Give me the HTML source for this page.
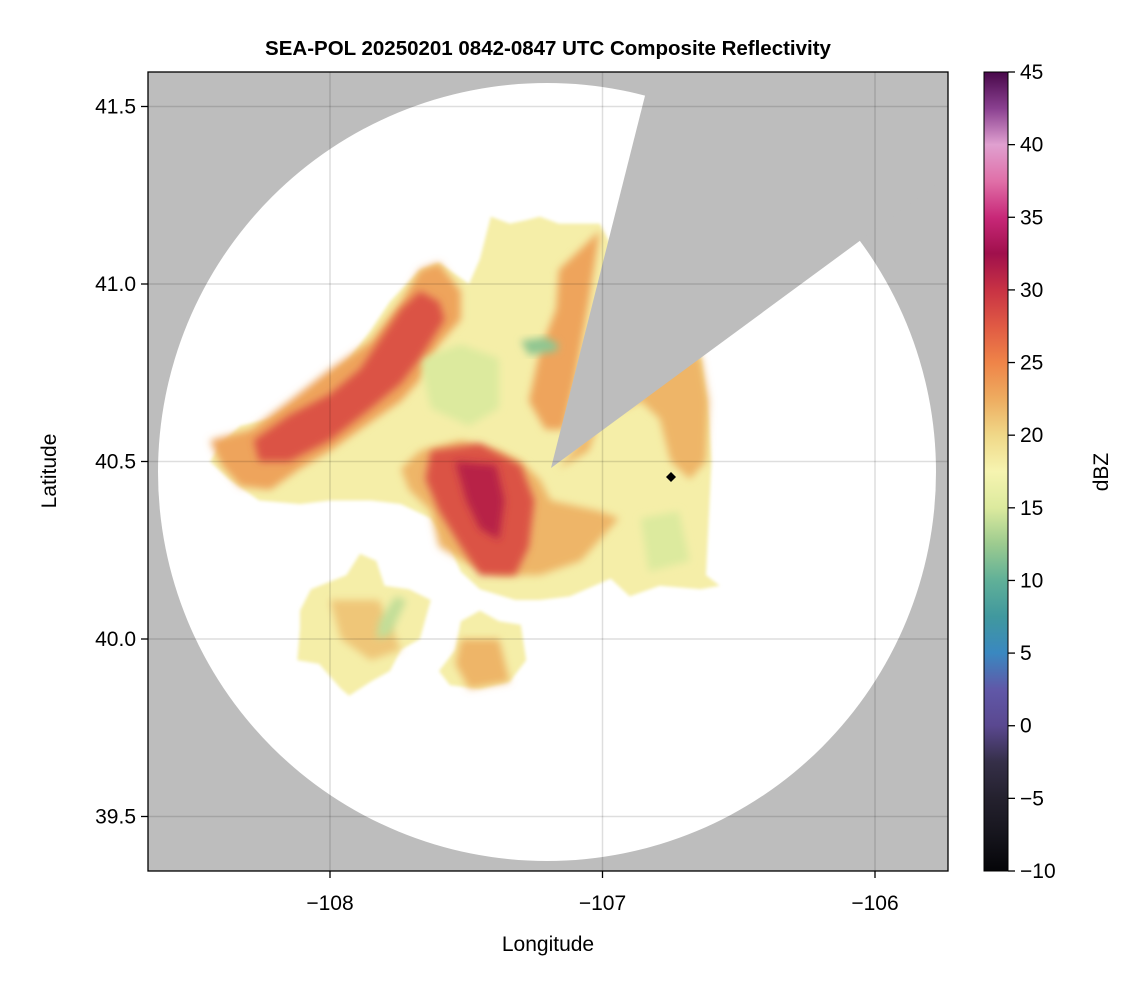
<!DOCTYPE html>
<html><head><meta charset="utf-8"><style>
body{margin:0;background:#fff;}
svg text{font-family:"Liberation Sans",Arial,sans-serif;}
</style></head><body>
<svg id="chart" width="1146" height="990" viewBox="0 0 1146 990" xmlns="http://www.w3.org/2000/svg">
<defs>
<clipPath id="plotClip"><rect x="148" y="72" width="800" height="799"/></clipPath>
<clipPath id="circClip"><circle cx="547" cy="472" r="389"/></clipPath>
<filter id="blur" x="-20%" y="-20%" width="140%" height="140%"><feGaussianBlur stdDeviation="4"/></filter>
<filter id="blur2" x="-20%" y="-20%" width="140%" height="140%"><feGaussianBlur stdDeviation="1.5"/></filter>
<linearGradient id="cbGrad" x1="0" y1="1" x2="0" y2="0"></linearGradient>
</defs>
<text x="548" y="55" text-anchor="middle" font-size="20.5" font-weight="bold">SEA-POL 20250201 0842-0847 UTC Composite Reflectivity</text>
<g id="plot" clip-path="url(#plotClip)">
<rect x="148" y="72" width="800" height="799" fill="#bdbdbd"/>
<circle cx="547" cy="472" r="389" fill="#fff"/>
<g id="field" clip-path="url(#circClip)"></g>
<polygon points="551,468 651,72 948,72 948,176" fill="#bdbdbd"/>
<g id="grid"></g>
<path d="M671,472 L676,477 L671,482 L666,477 Z" fill="#000"/>
</g>
<rect x="148" y="72" width="800" height="799" fill="none" stroke="#000" stroke-width="1.3"/>
<g id="axes"></g>
<text x="548" y="951" text-anchor="middle" font-size="21">Longitude</text>
<text transform="translate(56,471) rotate(-90)" text-anchor="middle" font-size="21">Latitude</text>
<rect id="cb" x="984" y="72" width="24" height="799" fill="url(#cbGrad)"/>
<g id="cbaxis"></g>
<text transform="translate(1108,472) rotate(-90)" text-anchor="middle" font-size="21">dBZ</text>
</svg>
<script>
// axis data
const lonTicks = [-108, -107, -106];
const latTicks = [39.5, 40.0, 40.5, 41.0, 41.5];
const cbTicks = [-10, -5, 0, 5, 10, 15, 20, 25, 30, 35, 40, 45];
// reflectivity contour regions: dBZ level and outline (lon, lat)
const contourDbz = [18, 18, 18, 23, 22, 23, 22, 21, 22, 15, 15, 12, 14, 28, 28, 31];
const contourLon = [
 [-108.40,-108.33,-108.22,-108.11,-108.00,-107.93,-107.85,-107.78,-107.67,-107.60,-107.49,-107.45,-107.41,-107.34,-107.28,-107.23,-107.16,-107.01,-106.86,-106.64,-106.61,-106.60,-106.61,-106.62,-106.57,-106.64,-106.79,-106.90,-106.97,-107.12,-107.23,-107.32,-107.45,-107.52,-107.56,-107.63,-107.74,-107.85,-108.00,-108.11,-108.26,-108.37,-108.44],
 [-108.11,-108.07,-107.94,-107.89,-107.83,-107.80,-107.71,-107.63,-107.67,-107.74,-107.78,-107.85,-107.93,-107.96,-108.04,-108.12,-108.11],
 [-107.52,-107.45,-107.38,-107.30,-107.28,-107.34,-107.45,-107.56,-107.60,-107.54],
 [-108.44,-108.29,-108.15,-108.00,-107.85,-107.74,-107.67,-107.60,-107.52,-107.52,-107.60,-107.67,-107.74,-107.89,-108.00,-108.11,-108.22,-108.33,-108.40],
 [-107.67,-107.52,-107.38,-107.30,-107.23,-107.19,-107.01,-106.94,-107.08,-107.23,-107.38,-107.49,-107.60,-107.63,-107.71,-107.74],
 [-107.16,-107.01,-107.05,-107.10,-107.14,-107.21,-107.27,-107.23,-107.17],
 [-106.83,-106.64,-106.61,-106.62,-106.68,-106.75,-106.79,-106.86,-107.01,-107.05,-107.16,-107.08,-106.94],
 [-108.00,-107.82,-107.74,-107.85,-107.96],
 [-107.52,-107.38,-107.34,-107.49,-107.54],
 [-107.67,-107.52,-107.38,-107.38,-107.49,-107.63],
 [-106.86,-106.72,-106.68,-106.83],
 [-107.30,-107.21,-107.16,-107.17,-107.27],
 [-107.82,-107.76,-107.72,-107.78,-107.83],
 [-108.28,-108.15,-108.00,-107.89,-107.82,-107.74,-107.67,-107.60,-107.58,-107.67,-107.74,-107.85,-108.00,-108.15,-108.26],
 [-107.63,-107.45,-107.30,-107.25,-107.27,-107.32,-107.45,-107.52,-107.60,-107.65],
 [-107.54,-107.39,-107.36,-107.38,-107.45,-107.50]
];
const contourLat = [
 [40.55,40.60,40.62,40.67,40.74,40.79,40.87,40.95,41.04,41.06,41.00,41.07,41.19,41.17,41.18,41.19,41.17,41.17,40.95,40.80,40.62,40.50,40.34,40.18,40.15,40.14,40.15,40.12,40.17,40.12,40.11,40.11,40.14,40.19,40.26,40.34,40.38,40.39,40.39,40.38,40.39,40.45,40.50],
 [40.08,40.14,40.18,40.24,40.22,40.15,40.14,40.11,40.00,39.97,39.91,39.88,39.84,39.86,39.93,39.94,40.03],
 [40.05,40.08,40.05,40.04,39.94,39.88,39.86,39.87,39.91,39.97],
 [40.56,40.59,40.67,40.76,40.84,40.95,41.04,41.06,40.98,40.90,40.83,40.73,40.67,40.59,40.53,40.48,40.42,40.43,40.49],
 [40.53,40.56,40.53,40.50,40.45,40.39,40.36,40.34,40.22,40.18,40.18,40.21,40.26,40.36,40.42,40.48],
 [41.04,41.15,40.95,40.73,40.59,40.59,40.67,40.81,40.93],
 [40.79,40.80,40.67,40.50,40.45,40.50,40.62,40.67,40.62,40.53,40.48,40.56,40.67],
 [40.11,40.11,39.97,39.94,40.00],
 [40.00,40.00,39.88,39.86,39.93],
 [40.79,40.83,40.79,40.65,40.60,40.65],
 [40.34,40.36,40.22,40.19],
 [40.84,40.85,40.83,40.81,40.80],
 [40.05,40.12,40.11,40.01,40.00],
 [40.56,40.63,40.69,40.76,40.84,40.93,40.98,40.95,40.90,40.79,40.72,40.65,40.56,40.50,40.50],
 [40.53,40.55,40.49,40.39,40.26,40.18,40.18,40.26,40.36,40.45],
 [40.50,40.49,40.39,40.28,40.31,40.39]
];
const cmapV = [-10,-7.5,-5,-2.5,0,2.5,5,7.5,10,12.5,15,17.5,20,22.5,25,27.5,30,32.5,35,37.5,40,42.5,45];
const cmapC = ['#050508','#16151d','#24212e','#352f48','#5a4890','#6058a8','#3a88c0','#40989e','#60b098','#9ccb8f','#dcea9e','#f6f4b0','#f0d888','#eeac60','#ef8448','#e05a44','#c83244','#a0104c','#c82878','#e070a8','#e0a0d0','#8a4090','#48084a'];

const NS='http://www.w3.org/2000/svg';
const xS = lon => 330 + (lon + 108) * 272.5;
const yS = lat => 284 - (lat - 41) * 355;
const cbY = v => 871 - (v + 10) / 55 * 799;
function hex(c){return [1,3,5].map(i=>parseInt(c.substr(i,2),16));}
function cmap(v){
  if(v<=cmapV[0])return cmapC[0];
  for(let i=0;i<cmapV.length-1;i++){
    if(v<=cmapV[i+1]){const t=(v-cmapV[i])/(cmapV[i+1]-cmapV[i]);const a=hex(cmapC[i]),b=hex(cmapC[i+1]);
      return 'rgb('+a.map((x,k)=>Math.round(x+(b[k]-x)*t)).join(',')+')';}
  }
  return cmapC[cmapC.length-1];
}
function mk(tag,attrs,parent){const e=document.createElementNS(NS,tag);for(const k in attrs)e.setAttribute(k,attrs[k]);parent.appendChild(e);return e;}

const grad=document.getElementById('cbGrad');
cmapV.forEach((v,i)=>mk('stop',{offset:((v+10)/55).toFixed(4),'stop-color':cmapC[i]},grad));

const field=document.getElementById('field');
contourDbz.forEach((d,i)=>{
  const pts=contourLon[i].map((lo,k)=>xS(lo).toFixed(1)+','+yS(contourLat[i][k]).toFixed(1)).join(' ');
  const p=mk('polygon',{points:pts,fill:cmap(d),'stroke-linejoin':'round',filter:(i<3?'url(#blur2)':'url(#blur)')},field);
  
  
});

const grid=document.getElementById('grid'), axes=document.getElementById('axes');
lonTicks.forEach(v=>{
  const x=xS(v);
  const g=mk('line',{x1:x,x2:x,y1:72,y2:871,stroke:'rgba(0,0,0,0.13)','stroke-width':1.5},grid);
  
  
  mk('line',{x1:x,x2:x,y1:871,y2:878,stroke:'#000','stroke-width':1.3},axes);
  const t=mk('text',{x:x,y:910,'text-anchor':'middle','font-size':21},axes);
  t.textContent='\u2212'+Math.abs(v);
  
  
});
latTicks.forEach(v=>{
  const y=yS(v);
  const g=mk('line',{x1:148,x2:948,y1:y,y2:y,stroke:'rgba(0,0,0,0.13)','stroke-width':1.5},grid);
  
  
  mk('line',{x1:141,x2:148,y1:y,y2:y,stroke:'#000','stroke-width':1.3},axes);
  const t=mk('text',{x:136,y:y+7,'text-anchor':'end','font-size':21},axes);
  t.textContent=v.toFixed(1);
  
  
});
const cba=document.getElementById('cbaxis');
mk('rect',{x:984,y:72,width:24,height:799,fill:'none',stroke:'#000','stroke-width':1},cba);
cbTicks.forEach(v=>{
  const y=cbY(v);
  mk('line',{x1:1008,x2:1015,y1:y,y2:y,stroke:'#000','stroke-width':1.3},cba);
  const t=mk('text',{x:1020,y:y+7,'font-size':21},cba);
  t.textContent=(v<0?'\u2212'+Math.abs(v):String(v));
  
  
});
</script>
</body></html>
